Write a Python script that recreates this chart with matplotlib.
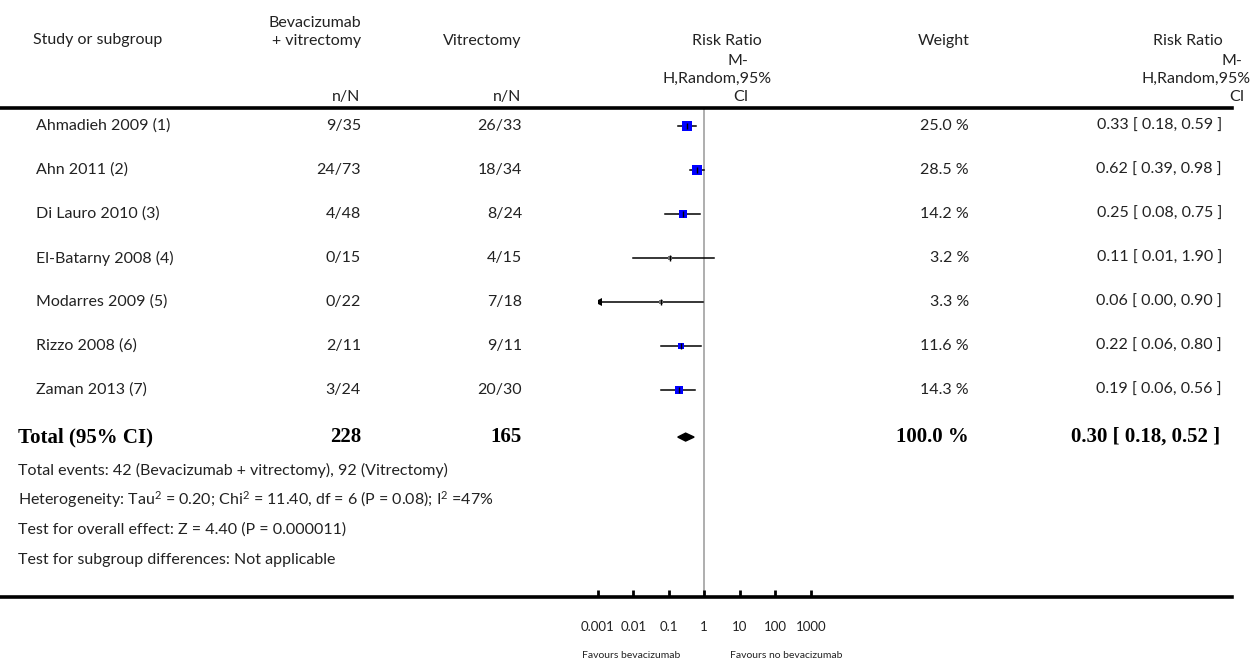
import numpy as np
import matplotlib
matplotlib.use("Agg")
import matplotlib.pyplot as plt
from matplotlib.lines import Line2D
from matplotlib.patches import Polygon
from matplotlib import transforms

# data
studies = ["Ahmadieh 2009 (1)", "Ahn 2011 (2)", "Di Lauro 2010 (3)", "El-Batarny 2008 (4)",
           "Modarres 2009 (5)", "Rizzo 2008 (6)", "Zaman 2013 (7)"]
treat_nN = ["9/35", "24/73", "4/48", "0/15", "0/22", "2/11", "3/24"]
ctrl_nN = ["26/33", "18/34", "8/24", "4/15", "7/18", "9/11", "20/30"]
weights = [25.0, 28.5, 14.2, 3.2, 3.3, 11.6, 14.3]
rr = [0.33, 0.62, 0.25, 0.11, 0.06, 0.22, 0.19]
rr_lo = [0.18, 0.39, 0.08, 0.01, 0.00, 0.06, 0.06]
rr_hi = [0.59, 0.98, 0.75, 1.90, 0.90, 0.80, 0.56]

total_treat = 228
total_ctrl = 165
total_weight = 100.0
total_rr, total_lo, total_hi = 0.30, 0.18, 0.52

footnotes = [
    "Total events: 42 (Bevacizumab + vitrectomy), 92 (Vitrectomy)",
    r"Heterogeneity: Tau$^{2}$ = 0.20; Chi$^{2}$ = 11.40, df = 6 (P = 0.08); I$^{2}$ =47%",
    "Test for overall effect: Z = 4.40 (P = 0.000011)",
    "Test for subgroup differences: Not applicable",
]
tick_vals = [0.001, 0.01, 0.1, 1, 10, 100, 1000]
tick_labels = ["0.001", "0.01", "0.1", "1", "10", "100", "1000"]

W, H = 1253, 665
SANS = ["Lato", "DejaVu Sans"]
SERIF = ["Liberation Serif", "DejaVu Serif"]
FS = 11.5
plt.rcParams["font.family"] = SANS
plt.rcParams["mathtext.fontset"] = "custom"
plt.rcParams["mathtext.rm"] = "Lato"
plt.rcParams["mathtext.default"] = "rm"

fig = plt.figure(figsize=(W / 100, H / 100), dpi=100)


def fx(px):
    return px / W


def fy(py):
    return 1 - py / H


# forest plot axes: rows at pixel 126 + 44*i
top_px, bot_px = 108, 597
ax = fig.add_axes([fx(597.7), fy(bot_px), fx(810.7) - fx(597.7), (bot_px - top_px) / H])
ax.set_xscale("log")
ax.set_xlim(1e-3, 1e3)
ax.set_ylim((bot_px - 126) / 44, (top_px - 126) / 44)
for s in ax.spines.values():
    s.set_visible(False)
ax.set_yticks([])
ax.set_xticks(tick_vals)
ax.set_xticklabels(tick_labels)
ax.minorticks_off()
ax.tick_params(axis="x", direction="in", length=5, width=2, pad=17, labelsize=9.5,
               labelcolor="#222222")
ax.patch.set_alpha(0)

ax.axvline(1, color="#a8a8a8", lw=1.3, zorder=1)

xmin = ax.get_xlim()[0]
for i in range(len(studies)):
    lo = max(rr_lo[i], xmin)
    ax.plot([lo, rr_hi[i]], [i, i], color="black", lw=1.1, zorder=2)
    if rr_lo[i] < xmin * 1.01:
        ax.plot([lo], [i], marker="<", color="black", ms=6, mew=0, zorder=3)
    ms = 1.45 * np.sqrt(weights[i])
    col = "#0000ff" if weights[i] > 5 else "#777777"
    ax.plot([rr[i]], [i], marker="s", color=col, ms=ms, mew=0, zorder=3)
    ax.plot([rr[i]], [i], marker="|", color="black", ms=4, mew=1, zorder=4)

ty = len(studies) + 0.07
dh = 0.09
ax.add_patch(Polygon([[total_lo, ty], [total_rr, ty - dh], [total_hi, ty], [total_rr, ty + dh]],
                     closed=True, color="black", zorder=3))

# full width rules
for ypx, lw in [(top_px, 2.6), (bot_px, 2.6)]:
    fig.add_artist(Line2D([0, fx(1232)], [fy(ypx), fy(ypx)], color="black", lw=lw))

row_tr = transforms.blended_transform_factory(fig.transFigure, ax.transData)
TXT = "#222222"


def rowtext(px, i, s, ha, **kw):
    fig.text(fx(px), i, s, ha=ha, va="center", transform=row_tr, **kw)


for i in range(len(studies)):
    rowtext(36, i, studies[i], "left", fontsize=FS, color=TXT)
    rowtext(361, i, treat_nN[i], "right", fontsize=FS, color=TXT)
    rowtext(522, i, ctrl_nN[i], "right", fontsize=FS, color=TXT)
    rowtext(969, i, f"{weights[i]:.1f} %", "right", fontsize=FS, color=TXT)
    rowtext(1222, i, f"{rr[i]:.2f} [ {rr_lo[i]:.2f}, {rr_hi[i]:.2f} ]", "right",
            fontsize=FS, color=TXT)

bold = dict(fontsize=15, fontweight="bold", family=SERIF)
rowtext(18, ty, "Total (95% CI)", "left", **bold)
rowtext(361, ty, str(total_treat), "right", **bold)
rowtext(522, ty, str(total_ctrl), "right", **bold)
rowtext(969, ty, f"{total_weight:.1f} %", "right", **bold)
rowtext(1220, ty, f"{total_rr:.2f} [ {total_lo:.2f}, {total_hi:.2f} ]", "right", **bold)


def ftext(px, py, s, ha="left", **kw):
    fig.text(fx(px), fy(py), s, ha=ha, va="center", color=TXT, **kw)


# header
ftext(33, 40, "Study or subgroup", fontsize=FS)
ftext(361, 23, "Bevacizumab", "right", fontsize=FS)
ftext(361, 41, "+ vitrectomy", "right", fontsize=FS)
ftext(360, 97, "n/N", "right", fontsize=FS)
ftext(521, 41, "Vitrectomy", "right", fontsize=FS)
ftext(521, 97, "n/N", "right", fontsize=FS)
ftext(727, 41, "Risk Ratio", "center", fontsize=FS)
ftext(738, 61, "M-", "center", fontsize=FS)
ftext(717, 79, "H,Random,95%", "center", fontsize=FS)
ftext(741, 97, "CI", "center", fontsize=FS)
ftext(970, 41, "Weight", "right", fontsize=FS)
ftext(1223, 41, "Risk Ratio", "right", fontsize=FS)
ftext(1242, 61, "M-", "right", fontsize=FS)
ftext(1251, 79, "H,Random,95%", "right", fontsize=FS)
ftext(1244, 97, "CI", "right", fontsize=FS)

for k, line in enumerate(footnotes):
    ftext(18, 470 + 30 * k, line, fontsize=FS)

ftext(631, 655, "Favours bevacizumab", "center", fontsize=7.5)
ftext(786, 655, "Favours no bevacizumab", "center", fontsize=7.5)

fig.savefig("out.png", dpi=100)
